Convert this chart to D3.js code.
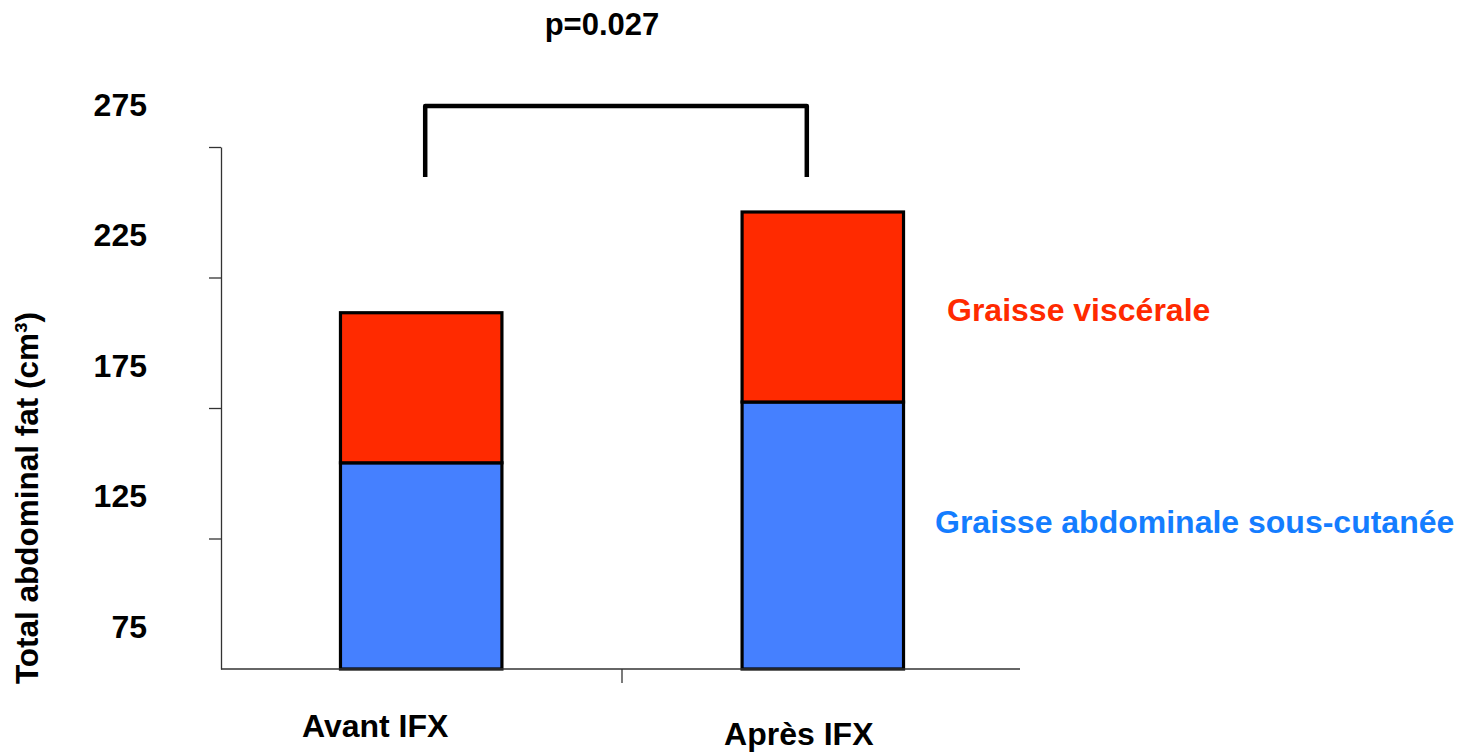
<!DOCTYPE html>
<html>
<head>
<meta charset="utf-8">
<script src="https://cdn.jsdelivr.net/npm/d3@7/dist/d3.min.js"></script>
<style>
  html, body { margin: 0; padding: 0; background: #fff; }
  svg { display: block; }
  text { font-family: "Liberation Sans", Arial, Helvetica, sans-serif; font-weight: bold; }
</style>
</head>
<body>
<svg id="chart" width="1458" height="754"></svg>
<script>
// ---- data ----
const categories = ["Avant IFX", "Après IFX"];
const seriesNames = ["Graisse abdominale sous-cutanée", "Graisse viscérale"];
const subcutaneous = [154, 177.3];
const visceral = [57.5, 72.8];
const yTickValues = [75, 125, 175, 225, 275];
const yTitle = "Total abdominal fat (cm³)";
const pLabel = "p=0.027";

// ---- layout ----
const W = 1458, H = 754;
const svg = d3.select("#chart");
const x0 = 221, x1 = 1020, yTop = 147, yBot = 669;

const y = d3.scaleLinear().domain([75, 275]).range([yBot, yTop]).clamp(true);
const x = d3.scaleBand().domain(categories).range([x0 + 1, x1 + 2])
  .paddingInner(0.598).paddingOuter(0.295);

const colors = { "Graisse abdominale sous-cutanée": "#4580ff", "Graisse viscérale": "#ff2a00" };
const legendColors = { "Graisse abdominale sous-cutanée": "#147dff", "Graisse viscérale": "#ff2a00" };

const rows = categories.map((c, i) => ({
  cat: c,
  "Graisse abdominale sous-cutanée": subcutaneous[i],
  "Graisse viscérale": visceral[i]
}));
const stacked = d3.stack().keys(seriesNames)(rows);

// bars
const gBars = svg.append("g");
stacked.forEach(layer => {
  gBars.selectAll(null).data(layer).join("rect")
    .attr("x", d => x(d.data.cat))
    .attr("width", x.bandwidth())
    .attr("y", d => y(d[1]))
    .attr("height", d => y(d[0]) - y(d[1]))
    .attr("fill", colors[layer.key])
    .attr("stroke", "#000")
    .attr("stroke-width", 3.2);
});

// y axis
const yAxis = d3.axisLeft(y).tickValues(yTickValues).tickSize(12).tickSizeOuter(0).tickFormat(d3.format("d"));
const gy = svg.append("g").attr("transform", `translate(${x0},0)`).call(yAxis);
gy.select(".domain").attr("stroke", "#333").attr("stroke-width", 1.3);
gy.selectAll(".tick line").attr("stroke", "#333").attr("stroke-width", 1.3)
  .filter(d => d === y.domain()[0]).remove();
gy.selectAll(".tick text")
  .attr("x", -74).attr("y", -32).attr("dy", 0)
  .attr("fill", "#000")
  .style("font-size", "32px")
  .style("font-family", "'Liberation Sans', Arial, sans-serif")
  .style("font-weight", "bold");

// x axis
const xAxis = d3.axisBottom(x).tickSize(0).tickSizeOuter(0).tickFormat("");
const gx = svg.append("g").attr("transform", `translate(0,${yBot})`).call(xAxis);
gx.select(".domain").attr("d", `M${x0},0H${x1}`).attr("stroke", "#333").attr("stroke-width", 1.3);
// separator tick between categories
const mid = (x(categories[0]) + x.bandwidth() + x(categories[1])) / 2;
gx.append("line").attr("x1", mid).attr("x2", mid).attr("y1", 0).attr("y2", 14)
  .attr("stroke", "#333").attr("stroke-width", 1.3);

// x labels (offsets reproduce the original placement)
const xLabelDx = [-46, -24];
const xLabelY = [737, 745];
svg.selectAll(null).data(categories).join("text")
  .attr("x", (d, i) => x(d) + x.bandwidth() / 2 + xLabelDx[i])
  .attr("y", (d, i) => xLabelY[i])
  .attr("text-anchor", "middle")
  .style("font-size", "32px")
  .attr("fill", "#000")
  .text(d => d);

// y title
svg.append("text")
  .attr("transform", "translate(38,498) rotate(-90)")
  .attr("text-anchor", "middle")
  .style("font-size", "31.5px")
  .attr("fill", "#000")
  .text(yTitle);

// significance bracket
const bL = x(categories[0]) + x.bandwidth() / 2 + 4;
const bR = x(categories[1]) + x.bandwidth() / 2 - 16;
const bTop = 106, bBot = 177;
svg.append("path")
  .attr("d", `M${bL},${bBot}V${bTop}H${bR}V${bBot}`)
  .attr("fill", "none").attr("stroke", "#000").attr("stroke-width", 4.5)
  .attr("stroke-linejoin", "round");
svg.append("text")
  .attr("x", 602).attr("y", 35)
  .attr("text-anchor", "middle")
  .style("font-size", "31px")
  .attr("fill", "#000")
  .text(pLabel);

// legend labels
const legendPos = { "Graisse viscérale": [947, 321], "Graisse abdominale sous-cutanée": [935, 533] };
svg.selectAll(null).data(seriesNames).join("text")
  .attr("x", d => legendPos[d][0])
  .attr("y", d => legendPos[d][1])
  .style("font-size", "32px")
  .attr("fill", d => legendColors[d])
  .text(d => d);
</script>
</body>
</html>
